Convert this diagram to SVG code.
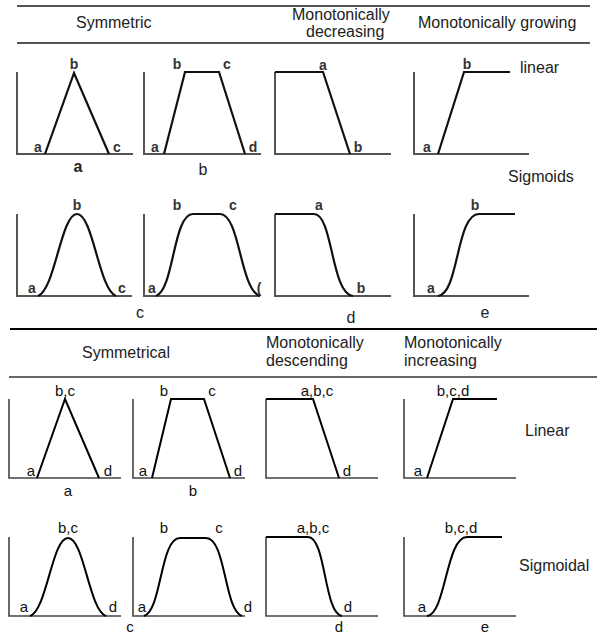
<svg xmlns="http://www.w3.org/2000/svg" width="597" height="636" viewBox="0 0 597 636">
<style>
.ax{fill:none;stroke:#555;stroke-width:2}
.ax2{fill:none;stroke:#444;stroke-width:1.6}
.fn{fill:none;stroke:#111;stroke-width:2.2;stroke-linejoin:miter}
.fn2{fill:none;stroke:#000;stroke-width:2;stroke-linejoin:miter}
.rule{stroke:#555;stroke-width:2}
.hd{font-family:"Liberation Sans",Arial,sans-serif;font-size:16px;fill:#222}
.lb{font-family:"Liberation Sans",Arial,sans-serif;font-size:14px;font-weight:bold;fill:#333;text-anchor:middle}
.cap{font-family:"Liberation Sans",Arial,sans-serif;font-size:16px;fill:#222;text-anchor:middle}
.lb2{font-family:"Liberation Sans",Arial,sans-serif;font-size:15px;fill:#111;text-anchor:middle}
.hd2{font-family:"Liberation Sans",Arial,sans-serif;font-size:16px;fill:#222}
</style>
<g id="top-headers">
<line class="rule" x1="17" y1="6" x2="590" y2="6"/>
<line class="rule" x1="17" y1="43" x2="590" y2="43"/>
<text class="hd" x="76" y="28" font-size="16.5">Symmetric</text>
<text class="hd" x="292" y="20" font-size="15">Monotonically</text>
<text class="hd" x="306" y="37" font-size="15">decreasing</text>
<text class="hd" x="418" y="28" font-size="15.5">Monotonically growing</text>
<text class="hd" x="520" y="73" font-size="17">linear</text>
<text class="hd" x="508" y="182" font-size="16.5">Sigmoids</text>
</g>
<g id="top-linear-a">
<path class="ax" d="M17,72 V154 H133"/>
<path class="fn" d="M45,154 L74,73 L109,154"/>
<text class="lb" x="74" y="69">b</text>
<text class="lb" x="38" y="152">a</text>
<text class="lb" x="117" y="152">c</text>
<text class="cap" x="78" y="172" font-weight="bold" font-size="17">a</text>
</g>
<g id="top-linear-b">
<path class="ax" d="M144,72 V154 H261"/>
<path class="fn" d="M164,154 L185,72 L219,72 L245,154"/>
<text class="lb" x="177" y="69">b</text>
<text class="lb" x="227" y="69">c</text>
<text class="lb" x="155" y="152">a</text>
<text class="lb" x="253" y="152">d</text>
<text class="cap" x="203" y="175" fill="#4a2a10">b</text>
</g>
<g id="top-linear-dec">
<path class="ax" d="M275,72 V154 H391"/>
<path class="fn" d="M275,72 L323,72 L350,154"/>
<text class="lb" x="323" y="70">a</text>
<text class="lb" x="358" y="152">b</text>
</g>
<g id="top-linear-inc">
<path class="ax" d="M414,72 V154 H529"/>
<path class="fn" d="M438,154 L464,72 L510,72"/>
<text class="lb" x="467" y="69">b</text>
<text class="lb" x="427" y="152">a</text>
</g>
<g id="top-sig-c">
<path class="ax" d="M17,214 V296 H132"/>
<path class="fn" d="M38,296 C55,290 61,214 77,214 C93,214 99,290 116,296"/>
<text class="lb" x="77" y="210">b</text>
<text class="lb" x="32" y="293">a</text>
<text class="lb" x="122" y="293">c</text>
<text class="cap" x="140" y="318" fill="#1f2a44">c</text>
</g>
<g id="top-sig-trap">
<path class="ax" d="M144,214 V296 H260"/>
<path class="fn" d="M156,296 C174,290 173,214 193,214 L220,214 C240,214 240,290 260,296"/>
<text class="lb" x="177" y="210">b</text>
<text class="lb" x="233" y="210">c</text>
<text class="lb" x="152" y="293">a</text>
<text class="lb" x="259" y="293" font-size="9">(</text>
</g>
<g id="top-sig-dec">
<path class="ax" d="M275,214 V296 H391"/>
<path class="fn" d="M275,214 L314,214 C333,214 331,294 353,296"/>
<text class="lb" x="319" y="210">a</text>
<text class="lb" x="361" y="293">b</text>
<text class="cap" x="351" y="323" fill="#1f2a44">d</text>
</g>
<g id="top-sig-inc">
<path class="ax" d="M414,214 V296 H529"/>
<path class="fn" d="M438,296 C459,294 456,214 479,214 L515,214"/>
<text class="lb" x="475" y="210">b</text>
<text class="lb" x="431" y="293">a</text>
<text class="cap" x="485" y="318" fill="#1f2a44">e</text>
</g>
<g id="bottom-headers">
<line x1="10" y1="329" x2="597" y2="329" stroke="#000" stroke-width="2"/>
<line x1="9" y1="377" x2="597" y2="377" stroke="#333" stroke-width="1.5"/>
<text class="hd2" x="126" y="358" text-anchor="middle">Symmetrical</text>
<text class="hd2" x="266" y="348">Monotonically</text>
<text class="hd2" x="266" y="366">descending</text>
<text class="hd2" x="404" y="348">Monotonically</text>
<text class="hd2" x="404" y="366">increasing</text>
<text class="hd2" x="525" y="436">Linear</text>
<text class="hd2" x="519" y="571">Sigmoidal</text>
</g>
<g id="bottom-linear-a">
<path class="ax2" d="M9,399 V478 H121"/>
<path class="fn2" d="M37,478 L65,399 L99,478"/>
<text class="lb2" x="65" y="396">b,c</text>
<text class="lb2" x="31" y="476">a</text>
<text class="lb2" x="108" y="476">d</text>
<text class="lb2" x="68" y="496">a</text>
</g>
<g id="bottom-linear-b">
<path class="ax2" d="M133,399 V478 H245"/>
<path class="fn2" d="M152,478 L171,399 L204,399 L230,478"/>
<text class="lb2" x="164" y="396">b</text>
<text class="lb2" x="212" y="396">c</text>
<text class="lb2" x="143" y="476">a</text>
<text class="lb2" x="238" y="476">d</text>
<text class="lb2" x="193" y="496">b</text>
</g>
<g id="bottom-linear-dec">
<path class="ax2" d="M266,399 V478 H378"/>
<path class="fn2" d="M266,399 L313,399 L339,478"/>
<text class="lb2" x="317" y="396">a,b,c</text>
<text class="lb2" x="347" y="476">d</text>
</g>
<g id="bottom-linear-inc">
<path class="ax2" d="M404,399 V478 H516"/>
<path class="fn2" d="M427,478 L453,399 L497,399"/>
<text class="lb2" x="453" y="396">b,c,d</text>
<text class="lb2" x="418" y="476">a</text>
</g>
<g id="bottom-sig-c">
<path class="ax2" d="M9,537 V616 H121"/>
<path class="fn2" d="M30,616 C47,610 52,538 68,538 C84,538 89,610 106,616"/>
<text class="lb2" x="68" y="533">b,c</text>
<text class="lb2" x="24" y="612">a</text>
<text class="lb2" x="113" y="612">d</text>
<text class="lb2" x="130" y="632">c</text>
</g>
<g id="bottom-sig-trap">
<path class="ax2" d="M133,537 V616 H245"/>
<path class="fn2" d="M144,616 C162,610 160,538 180,538 L206,538 C226,538 224,610 242,616"/>
<text class="lb2" x="164" y="533">b</text>
<text class="lb2" x="219" y="533">c</text>
<text class="lb2" x="142" y="612">a</text>
<text class="lb2" x="248" y="612">d</text>
</g>
<g id="bottom-sig-dec">
<path class="ax2" d="M266,537 V616 H378"/>
<path class="fn2" d="M266,537 L308,537 C326,537 324,614 342,616"/>
<text class="lb2" x="313" y="533">a,b,c</text>
<text class="lb2" x="348" y="612">d</text>
<text class="lb2" x="339" y="632">d</text>
</g>
<g id="bottom-sig-inc">
<path class="ax2" d="M404,537 V616 H516"/>
<path class="fn2" d="M427,616 C446,614 446,537 467,537 L502,537"/>
<text class="lb2" x="461" y="533">b,c,d</text>
<text class="lb2" x="422" y="612">a</text>
<text class="lb2" x="485" y="632">e</text>
</g>
</svg>
